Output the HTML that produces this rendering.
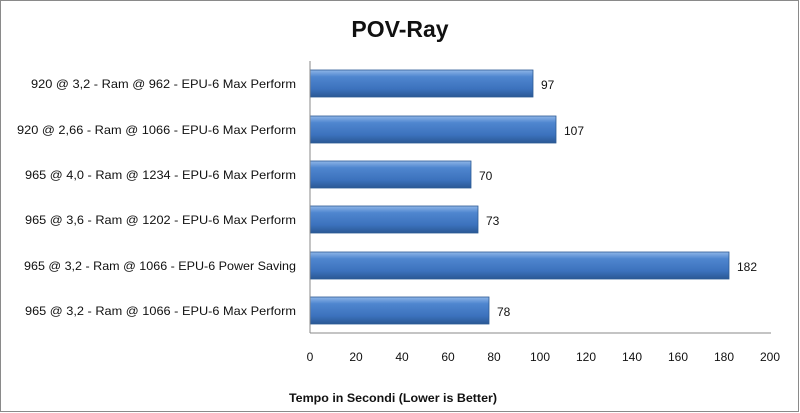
<!DOCTYPE html>
<html><head><meta charset="utf-8"><style>
body{margin:0;background:#fff}
svg{display:block;font-family:"Liberation Sans",sans-serif}
</style></head><body>
<svg width="800" height="413" viewBox="0 0 800 413">
<defs>
<linearGradient id="g" x1="0" y1="0" x2="0" y2="1">
<stop offset="0" stop-color="#8fb6e8"/><stop offset="0.25" stop-color="#4f86cf"/>
<stop offset="0.7" stop-color="#3c72bd"/><stop offset="1" stop-color="#2a5895"/>
</linearGradient>
</defs>
<rect x="0.5" y="0.5" width="798" height="411" fill="#fff" stroke="#8a8a8a"/>
<text x="400" y="37" text-anchor="middle" font-size="23" font-weight="bold" fill="#111">POV-Ray</text>
<g font-size="12" fill="#111">
<g lengthAdjust="spacingAndGlyphs">
<text x="31" y="88" textLength="265" lengthAdjust="spacingAndGlyphs">920 @ 3,2 - Ram @ 962 - EPU-6 Max Perform</text>
<text x="17" y="134" textLength="279" lengthAdjust="spacingAndGlyphs">920 @ 2,66 - Ram @ 1066 - EPU-6 Max Perform</text>
<text x="25" y="179" textLength="271" lengthAdjust="spacingAndGlyphs">965 @ 4,0 - Ram @ 1234 - EPU-6 Max Perform</text>
<text x="25" y="224" textLength="271" lengthAdjust="spacingAndGlyphs">965 @ 3,6 - Ram @ 1202 - EPU-6 Max Perform</text>
<text x="24" y="270" textLength="272" lengthAdjust="spacingAndGlyphs">965 @ 3,2 - Ram @ 1066 - EPU-6 Power Saving</text>
<text x="25" y="315" textLength="271" lengthAdjust="spacingAndGlyphs">965 @ 3,2 - Ram @ 1066 - EPU-6 Max Perform</text>
</g>
<g fill="url(#g)" stroke="#2c5a94" stroke-width="0.8">
<rect x="310" y="70" width="223" height="27"/>
<rect x="310" y="116" width="246" height="27"/>
<rect x="310" y="161" width="161" height="27"/>
<rect x="310" y="206" width="168" height="27"/>
<rect x="310" y="252" width="419" height="27"/>
<rect x="310" y="297" width="179" height="27"/>
</g>
<text x="541" y="89">97</text>
<text x="564" y="135">107</text>
<text x="479" y="180">70</text>
<text x="486" y="225">73</text>
<text x="737" y="271">182</text>
<text x="497" y="316">78</text>
<line x1="310" y1="61" x2="310" y2="333" stroke="#888"/>
<line x1="310" y1="333" x2="771" y2="333" stroke="#888"/>
<g text-anchor="middle">
<text x="310" y="361">0</text><text x="356" y="361">20</text><text x="402" y="361">40</text>
<text x="448" y="361">60</text><text x="494" y="361">80</text><text x="540" y="361">100</text>
<text x="586" y="361">120</text><text x="632" y="361">140</text><text x="678" y="361">160</text>
<text x="724" y="361">180</text><text x="770" y="361">200</text>
</g>
<text x="289" y="402" font-size="11.5" font-weight="bold" textLength="208" lengthAdjust="spacingAndGlyphs">Tempo in Secondi (Lower is Better)</text>
</g>
</svg>
</body></html>
